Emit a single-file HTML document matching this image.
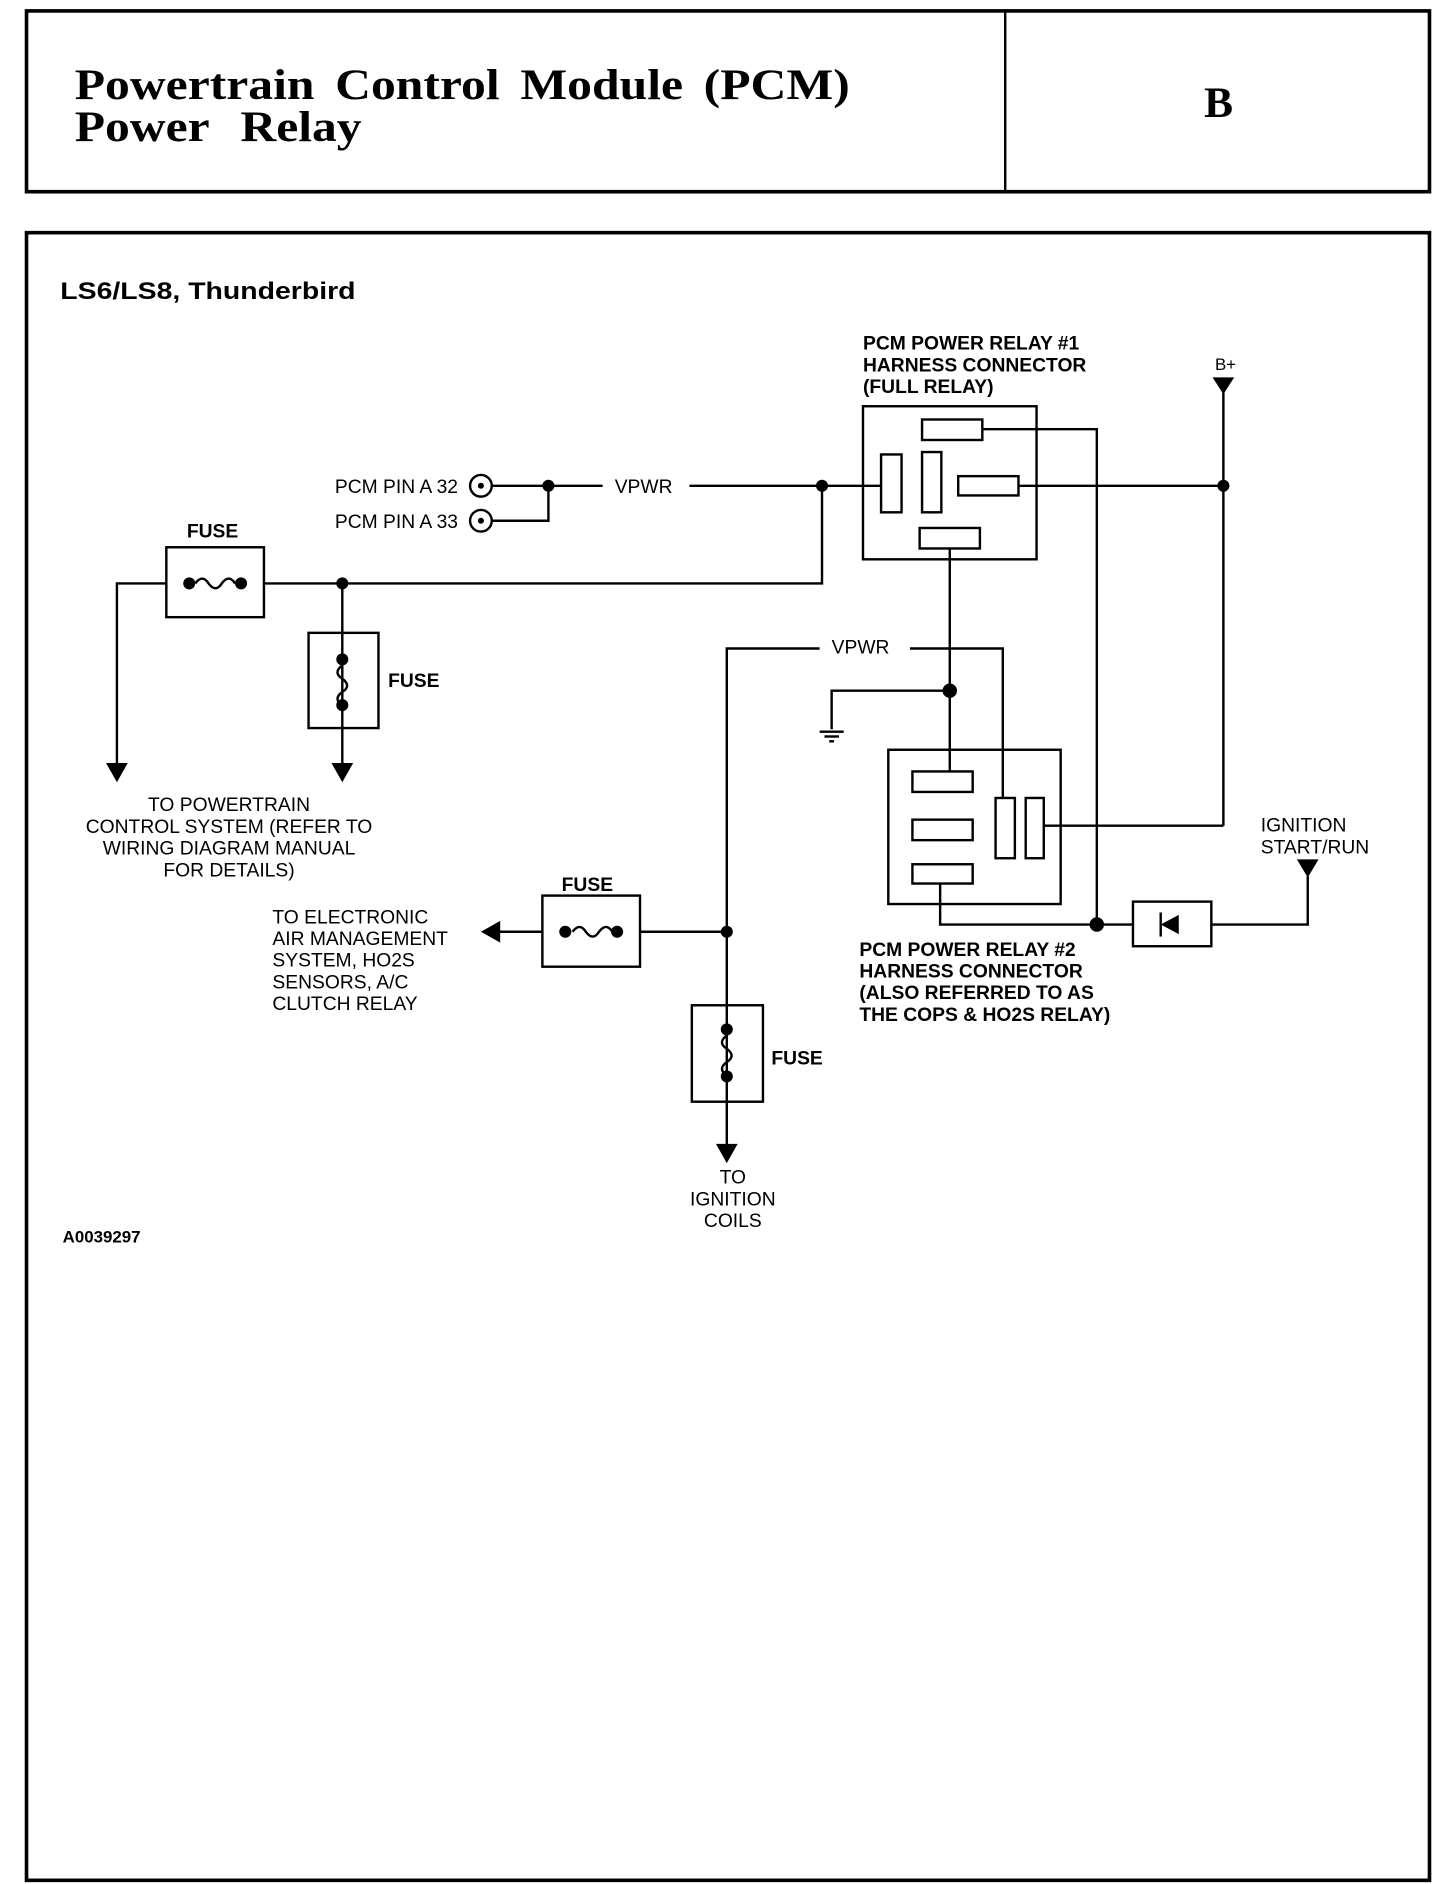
<!DOCTYPE html>
<html><head><meta charset="utf-8"><style>
html,body{margin:0;padding:0;background:#fff;}
svg{display:block;}
.t{font-family:"Liberation Sans",sans-serif;font-size:16px;fill:#000;}
.b{font-weight:bold;}
</style></head><body>
<svg width="1456" height="1884" viewBox="0 0 1208 1563" xmlns="http://www.w3.org/2000/svg">
<g fill="none" stroke="#000" stroke-width="2">
<rect x="22" y="9" width="1164" height="150" stroke-width="3"/>
<line x1="834" y1="9" x2="834" y2="159"/>
<rect x="22" y="193" width="1164" height="1367" stroke-width="3"/>
<rect x="716" y="337" width="144" height="127"/>
<rect x="765" y="348" width="50" height="17"/>
<rect x="731" y="377" width="17" height="48"/>
<rect x="765" y="375" width="16" height="50"/>
<rect x="795" y="395" width="50" height="16"/>
<rect x="763" y="438" width="50" height="17"/>
<polyline points="815,356 910,356 910,767"/>
<line x1="845" y1="403" x2="1015" y2="403"/>
<line x1="1015" y1="325" x2="1015" y2="685"/>
<line x1="731" y1="403" x2="682" y2="403"/>
<line x1="682" y1="403" x2="572" y2="403"/>
<line x1="500" y1="403" x2="408" y2="403"/>
<polyline points="408,432 455,432 455,403"/>
<circle cx="399" cy="403" r="9"/>
<circle cx="399" cy="432" r="9"/>
<polyline points="682,403 682,484 219,484"/>
<rect x="138" y="454" width="81" height="58"/>
<polyline points="138,484 97,484 97,635"/>
<line x1="284" y1="484" x2="284" y2="635"/>
<rect x="256" y="525" width="58" height="79"/>
<polyline points="788,455 788,640"/>
<polyline points="788,573 690,573 690,605"/>
<line x1="680" y1="607" x2="700" y2="607"/>
<line x1="684" y1="611" x2="696" y2="611"/>
<line x1="688" y1="615" x2="692" y2="615"/>
<rect x="737" y="622" width="143" height="128"/>
<rect x="757" y="640" width="50" height="17"/>
<rect x="757" y="680" width="50" height="17"/>
<rect x="757" y="717" width="50" height="16"/>
<rect x="826" y="662" width="16" height="50"/>
<rect x="851" y="662" width="15" height="50"/>
<polyline points="603,955 603,538 680,538"/>
<polyline points="755,538 832,538 832,662"/>
<line x1="866" y1="685" x2="1015" y2="685"/>
<polyline points="780,733 780,767 940,767"/>
<rect x="940" y="748" width="65" height="37"/>
<polyline points="1005,767 1085,767 1085,727"/>
<line x1="603" y1="773" x2="531" y2="773"/>
<rect x="450" y="743" width="81" height="59"/>
<line x1="450" y1="773" x2="413" y2="773"/>
<rect x="574" y="834" width="59" height="80"/>
<path d="M162,484 q6,-8 11,0 q6,8 11,0 q6,-8 11,0"/>
<path d="M475,773 q6,-8 11,0 q6,8 11,0 q6,-8 11,0"/>
<path d="M284,552 q-8,6 0,11 q8,6 0,11 q-8,6 0,11"/>
<path d="M603,859 q-8,6 0,11 q8,6 0,11 q-8,6 0,11"/>
<line x1="963" y1="757" x2="963" y2="777"/>
</g>
<g fill="#000">
<circle cx="399" cy="403" r="2.5"/><circle cx="399" cy="432" r="2.5"/>
<circle cx="455" cy="403" r="5"/><circle cx="682" cy="403" r="5"/>
<circle cx="1015" cy="403" r="5"/><circle cx="284" cy="484" r="5"/>
<circle cx="157" cy="484" r="5"/><circle cx="200" cy="484" r="5"/>
<circle cx="284" cy="547" r="5"/><circle cx="284" cy="585" r="5"/>
<circle cx="788" cy="573" r="6"/><circle cx="910" cy="767" r="6"/>
<circle cx="603" cy="773" r="5"/><circle cx="469" cy="773" r="5"/><circle cx="512" cy="773" r="5"/>
<circle cx="603" cy="854" r="5"/><circle cx="603" cy="893" r="5"/>
<polygon points="1006,313 1024,313 1015,327"/>
<polygon points="88,633 106,633 97,649"/>
<polygon points="275,633 293,633 284,649"/>
<polygon points="594,949 612,949 603,965"/>
<polygon points="1076,713 1094,713 1085,728"/>
<polygon points="399,773 415,764 415,782"/>
<polygon points="963,767 978,759 978,775"/>
</g>
<text x="62" y="82" textLength="643" lengthAdjust="spacingAndGlyphs" style="font-family:'Liberation Serif',serif;font-weight:bold;font-size:36px;word-spacing:6px">Powertrain Control Module (PCM)</text>
<text x="62" y="117" textLength="238" lengthAdjust="spacingAndGlyphs" style="font-family:'Liberation Serif',serif;font-weight:bold;font-size:36px;word-spacing:14px">Power Relay</text>
<text x="1011" y="97" text-anchor="middle" style="font-family:'Liberation Serif',serif;font-weight:bold;font-size:36px">B</text>
<text x="50" y="248" textLength="245" lengthAdjust="spacingAndGlyphs" class="t b" style="font-size:20px">LS6/LS8,  Thunderbird</text>
<g class="t b" style="font-size:16px">
<text x="716" y="290">PCM POWER RELAY #1</text>
<text x="716" y="308">HARNESS CONNECTOR</text>
<text x="716" y="326">(FULL RELAY)</text>
<text x="155" y="446">FUSE</text>
<text x="322" y="570">FUSE</text>
<text x="466" y="739">FUSE</text>
<text x="640" y="883">FUSE</text>
<text x="713" y="793">PCM POWER RELAY #2</text>
<text x="713" y="811">HARNESS CONNECTOR</text>
<text x="713" y="829">(ALSO REFERRED TO AS</text>
<text x="713" y="847">THE COPS &amp; HO2S RELAY)</text>
<text x="52" y="1031" style="font-size:14px">A0039297</text>
</g>
<g class="t">
<text x="1008" y="307" style="font-size:14px">B+</text>
<text x="380" y="409" text-anchor="end">PCM PIN A 32</text>
<text x="380" y="438" text-anchor="end">PCM PIN A 33</text>
<text x="510" y="409">VPWR</text>
<text x="690" y="542">VPWR</text>
<text x="190" y="673" text-anchor="middle">TO POWERTRAIN</text>
<text x="190" y="691" text-anchor="middle">CONTROL SYSTEM (REFER TO</text>
<text x="190" y="709" text-anchor="middle">WIRING DIAGRAM MANUAL</text>
<text x="190" y="727" text-anchor="middle">FOR DETAILS)</text>
<text x="226" y="766">TO ELECTRONIC</text>
<text x="226" y="784">AIR MANAGEMENT</text>
<text x="226" y="802">SYSTEM, HO2S</text>
<text x="226" y="820">SENSORS, A/C</text>
<text x="226" y="838">CLUTCH RELAY</text>
<text x="1046" y="690">IGNITION</text>
<text x="1046" y="708">START/RUN</text>
<text x="608" y="982" text-anchor="middle">TO</text>
<text x="608" y="1000" text-anchor="middle">IGNITION</text>
<text x="608" y="1018" text-anchor="middle">COILS</text>
</g>
</svg>
</body></html>
